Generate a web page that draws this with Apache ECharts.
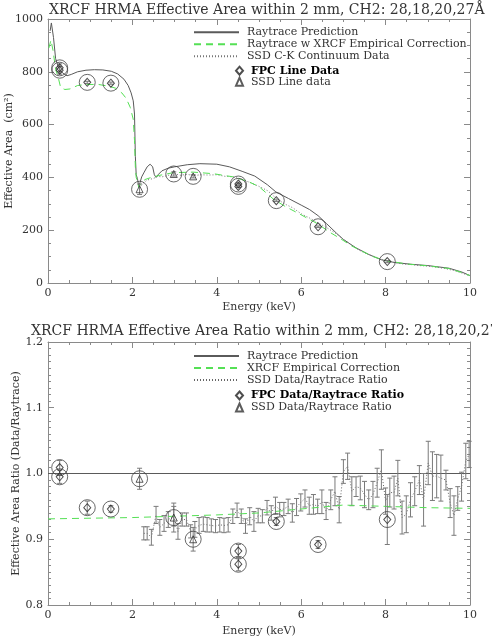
<!DOCTYPE html>
<html><head><meta charset="utf-8">
<script src="https://cdn.jsdelivr.net/npm/echarts@6/dist/echarts.min.js"></script>
<style>html,body{margin:0;padding:0;background:#fff}#c{width:492px;height:637px}</style>
</head><body><div id="c"></div>
<script>
// ---------- DATA ----------
const raytraceE = [0.05,0.08,0.10,0.13,0.18,0.25,0.35,0.45,0.55,0.7,0.9,1.1,1.3,1.5,1.65,1.8,1.9,1.97,2.02,2.05,2.07,2.09,2.12,2.15,2.18,2.22,2.28,2.35,2.42,2.48,2.52,2.56,2.62,2.7,2.85,3.0,3.3,3.6,4.0,4.3,4.6,4.9,5.2,5.4,5.7,6.0,6.2,6.4,6.6,6.84,7.0,7.3,7.6,7.9,8.2,8.6,9.0,9.2,9.5,9.8,10.0];
const raytraceA = [955,985,990,930,850,815,795,785,790,800,806,808,807,802,792,772,748,720,690,640,480,410,395,368,380,402,420,440,450,440,410,400,412,425,435,440,448,452,450,440,423,405,372,345,320,295,278,255,225,188,165,133,108,88,78,71,66,62,56,42,28];

const correctedE = [0.02,0.07,0.12,0.18,0.24,0.3,0.4,0.52,0.7,0.9,1.2,1.45,1.6,1.75,1.85,1.95,2.02,2.05,2.07,2.09,2.12,2.15,2.2,2.3,2.45,2.65,2.97,3.44,3.92,4.39,4.75,5.0,5.34,5.6,6.0,6.37,6.7,6.92,7.2,7.7,8.0,8.5,9.0,9.5,9.8,10.0];
const correctedA = [890,920,880,810,780,740,733,735,748,752,752,745,738,720,700,665,620,540,440,400,385,362,378,392,400,408,418,420,414,402,384,365,318,292,258,226,190,169,140,100,85,72,65,55,40,28];

const ssdContE = [2.17,2.25,2.35,2.5,2.6,2.7,2.85,3.0,3.15,3.3,3.45,3.6,3.8,4.0,4.2,4.4,4.6,4.8,5.0,5.2,5.4,5.6,5.8,6.0,6.2,6.4,6.6,6.8,7.0,7.2,7.4,7.6,7.8,8.0,8.2,8.4,8.6,8.8,9.0,9.2,9.4,9.6,9.8,10.0];
const ssdContA = [360,378,390,396,404,402,408,413,408,412,406,410,409,410,404,402,392,380,366,350,322,300,285,262,246,228,210,190,166,142,122,108,96,84,78,72,70,66,64,60,55,48,38,27];

const fpcE = [0.277,0.277,0.93,1.49,4.51,4.51,5.41,6.40,8.04];
const fpcA = [815,806,760,757,375,366,312,213,81];
const fpcAErr = [15,15,4,4,4,4,3,3,4];
const fpcRatio = [1.009,0.995,0.948,0.946,0.882,0.862,0.927,0.892,0.930];
const fpcRatioErr = [0.011,0.010,0.010,0.005,0.010,0.010,0.006,0.006,0.038];

const ssdLineE = [2.17,2.98,3.44];
const ssdLineA = [355,413,404];
const ssdLineAErr = [20,8,6];
const ssdLineRatio = [0.992,0.933,0.900];
const ssdLineRatioErr = [0.016,0.022,0.018];

const raytraceRatioE = [0,10];
const raytraceRatioV = [1.0,1.0];

const corrRatioE = [0,2,4,5,6,7,8,9,10];
const corrRatioV = [0.931,0.933,0.937,0.940,0.946,0.952,0.950,0.948,0.947];

const ssdRatioE = [2.27,2.35,2.45,2.56,2.65,2.75,2.85,2.98,3.08,3.18,3.28,3.38,3.48,3.58,3.68,3.77,3.87,3.97,4.07,4.17,4.27,4.38,4.48,4.58,4.68,4.78,4.88,4.98,5.08,5.19,5.29,5.39,5.49,5.59,5.69,5.79,5.89,5.99,6.09,6.19,6.29,6.39,6.49,6.59,6.70,6.80,6.90,7.00,7.10,7.20,7.30,7.40,7.50,7.60,7.70,7.80,7.90,8.00,8.10,8.20,8.29,8.39,8.49,8.59,8.69,8.80,8.90,9.01,9.11,9.21,9.31,9.43,9.53,9.62,9.71,9.80,9.90,9.98];
const ssdRatioV = [0.909,0.909,0.903,0.937,0.918,0.924,0.930,0.935,0.912,0.930,0.930,0.912,0.915,0.921,0.923,0.922,0.921,0.920,0.922,0.921,0.922,0.935,0.944,0.935,0.920,0.935,0.927,0.936,0.935,0.948,0.940,0.951,0.945,0.946,0.950,0.940,0.949,0.956,0.962,0.951,0.953,0.950,0.957,0.943,0.960,0.973,0.945,1.003,1.011,0.973,0.980,0.978,0.968,0.960,0.968,0.986,1.006,0.958,0.971,0.971,0.993,0.933,0.938,0.960,0.973,0.990,0.960,1.016,0.996,0.996,0.993,0.990,0.955,0.936,0.962,0.980,1.019,1.029];
const ssdRatioErr = [0.010,0.010,0.012,0.013,0.012,0.012,0.012,0.015,0.012,0.010,0.010,0.010,0.012,0.012,0.011,0.011,0.010,0.010,0.011,0.011,0.011,0.011,0.011,0.011,0.011,0.013,0.015,0.011,0.010,0.011,0.011,0.013,0.011,0.010,0.011,0.014,0.013,0.013,0.013,0.013,0.015,0.011,0.018,0.013,0.015,0.022,0.020,0.018,0.020,0.022,0.015,0.018,0.020,0.015,0.020,0.022,0.030,0.020,0.022,0.025,0.027,0.025,0.028,0.026,0.022,0.022,0.040,0.033,0.037,0.033,0.035,0.015,0.022,0.030,0.018,0.022,0.027,0.020];

const xTicks = {min:0, max:10, interval:2};
const areaTicks = {min:0, max:1000, interval:200};
const ratioTicks = {min:0.8, max:1.2, interval:0.1};

// ---------- helpers ----------
const FONT = 'DejaVu Serif';
const AX = '#8a8a8a';
const TXT = '#333';
const SOLID = '#5a5a5a';
const GREEN = '#55e055';
const zip = (a,b) => a.map((v,i)=>[v,b[i]]);
const errRows = (e,v,err) => e.map((x,i)=>[x, v[i]-err[i], v[i]+err[i]]);

function errRender(params, api){
  const x = api.value(0);
  const p1 = api.coord([x, api.value(1)]);
  const p2 = api.coord([x, api.value(2)]);
  const w = 2.5;
  const st = {stroke:'#7a7a7a', lineWidth:1};
  return {type:'group', children:[
    {type:'line', shape:{x1:p1[0],y1:p1[1],x2:p2[0],y2:p2[1]}, style:st},
    {type:'line', shape:{x1:p1[0]-w,y1:p1[1],x2:p1[0]+w,y2:p1[1]}, style:st},
    {type:'line', shape:{x1:p2[0]-w,y1:p2[1],x2:p2[0]+w,y2:p2[1]}, style:st}
  ]};
}

function xAx(grid, pos, labels, name, gap){
  return {type:'value', gridIndex:grid, position:pos, min:xTicks.min, max:xTicks.max, interval:xTicks.interval,
    name: name||'', nameLocation:'middle', nameGap:gap||12, nameMoveOverlap:false,
    nameTextStyle:{fontFamily:FONT, fontSize:11, color:TXT},
    axisLine:{show:true, onZero:false, lineStyle:{color:AX}},
    axisTick:{show:true, inside:true, length:6, lineStyle:{color:AX}},
    minorTick:{show:true, splitNumber:4, length:3, lineStyle:{color:AX}},
    splitLine:{show:false}, minorSplitLine:{show:false},
    axisLabel:{show:labels, margin:5, fontFamily:FONT, fontSize:11, color:TXT}};
}
function yAx(grid, pos, labels, t, minorN, name, gap, fmt){
  return {type:'value', gridIndex:grid, position:pos, min:t.min, max:t.max, interval:t.interval,
    name: name||'', nameLocation:'middle', nameGap:gap||30, nameRotate:90, nameMoveOverlap:false,
    nameTextStyle:{fontFamily:FONT, fontSize:11, color:TXT},
    axisLine:{show:true, onZero:false, lineStyle:{color:AX}},
    axisTick:{show:true, inside:true, length:6, lineStyle:{color:AX}},
    minorTick:{show:true, splitNumber:minorN, length:3, lineStyle:{color:AX}},
    splitLine:{show:false}, minorSplitLine:{show:false},
    axisLabel:{show:labels, margin:5, fontFamily:FONT, fontSize:11, color:TXT, formatter:fmt}};
}

const chart = echarts.init(document.getElementById('c'), null, {renderer:'canvas'});
const lineLegendText = {fontFamily:FONT, fontSize:11, color:TXT, lineHeight:12, padding:[0,0,0,3]};
const symLegendText = {fontFamily:FONT, fontSize:11, color:TXT, lineHeight:11, padding:[0,0,0,3]};
const noSym = {opacity:0};
const hollow = c => ({color:'rgba(0,0,0,0)', borderColor:c, borderWidth:1});

chart.setOption({
  animation:false,
  backgroundColor:'#fff',
  title:[
    {text:'XRCF HRMA Effective Area within 2 mm, CH2: 28,18,20,27Å', left:44, top:-2,
     textStyle:{fontFamily:FONT, fontSize:14, fontWeight:'normal', color:TXT}},
    {text:'XRCF HRMA Effective Area Ratio within 2 mm, CH2: 28,18,20,27Å', left:26, top:319,
     textStyle:{fontFamily:FONT, fontSize:14, fontWeight:'normal', color:TXT}}
  ],
  legend:[
    {orient:'vertical', left:193, top:26.3, padding:0, itemWidth:45, itemHeight:12, itemGap:0, selectedMode:false,
     textStyle:lineLegendText,
     data:[{name:'Raytrace Prediction', itemStyle:noSym},{name:'Raytrace w XRCF Empirical Correction', itemStyle:noSym},{name:'SSD C-K Continuum Data', itemStyle:noSym}]},
    {orient:'vertical', left:235, top:65.2, padding:0, itemWidth:7, itemHeight:8, itemGap:0, selectedMode:false,
     textStyle:symLegendText,
     data:[{name:'FPC Line Data', textStyle:{fontWeight:'bold', color:'#000'}},'SSD Line data']},
    {orient:'vertical', left:193, top:350, padding:0, itemWidth:45, itemHeight:12, itemGap:0, selectedMode:false,
     textStyle:lineLegendText,
     data:[{name:'Raytrace Prediction ', itemStyle:noSym},{name:'XRCF Empirical Correction', itemStyle:noSym},{name:'SSD Data/Raytrace Ratio', itemStyle:noSym}]},
    {orient:'vertical', left:235, top:389.5, padding:0, itemWidth:7, itemHeight:8, itemGap:0, selectedMode:false,
     textStyle:lineLegendText,
     formatter: n => n === 'SSD Line Ratio' ? 'SSD Data/Raytrace Ratio' : n,
     data:[{name:'FPC Data/Raytrace Ratio', textStyle:{fontWeight:'bold', color:'#000'}},'SSD Line Ratio']}
  ],
  grid:[
    {left:48, right:22, top:19, height:264, outerBoundsMode:'none', containLabel:false},
    {left:48, right:22, top:342, height:263, outerBoundsMode:'none', containLabel:false}
  ],
  xAxis:[
    xAx(0,'bottom',true,'Energy (keV)',19), xAx(0,'top',false),
    xAx(1,'bottom',true,'Energy (keV)',21), xAx(1,'top',false)
  ],
  yAxis:[
    yAx(0,'left',true,areaTicks,4,'Effective Area  (cm²)',33.5, v=>String(v)),
    yAx(0,'right',false,areaTicks,4),
    yAx(1,'left',true,ratioTicks,10,'Effective Area Ratio (Data/Raytrace)',26.5, v=>v.toFixed(1)),
    yAx(1,'right',false,ratioTicks,10)
  ],
  series:[
    // ---- top chart ----
    {name:'Raytrace Prediction', type:'line', xAxisIndex:0, yAxisIndex:0, symbol:'none', z:3,
     lineStyle:{color:SOLID, width:1}, itemStyle:{color:SOLID}, data:zip(raytraceE,raytraceA)},
    {name:'Raytrace w XRCF Empirical Correction', type:'line', xAxisIndex:0, yAxisIndex:0, symbol:'none', z:4,
     lineStyle:{color:GREEN, width:1, type:[7,5]}, itemStyle:{color:GREEN}, data:zip(correctedE,correctedA)},
    {name:'SSD C-K Continuum Data', type:'line', xAxisIndex:0, yAxisIndex:0, symbol:'none', z:3,
     lineStyle:{color:'#777', width:1, type:[1,2]}, itemStyle:{color:'#777'}, data:zip(ssdContE,ssdContA)},
    {type:'custom', xAxisIndex:0, yAxisIndex:0, renderItem:errRender, z:5, data:errRows(fpcE,fpcA,fpcAErr)},
    {type:'custom', xAxisIndex:0, yAxisIndex:0, renderItem:errRender, z:5, data:errRows(ssdLineE,ssdLineA,ssdLineAErr)},
    {type:'scatter', xAxisIndex:0, yAxisIndex:0, symbol:'circle', symbolSize:16, z:6,
     itemStyle:hollow('#444'), data:zip(fpcE,fpcA).concat(zip(ssdLineE,ssdLineA))},
    {name:'FPC Line Data', type:'scatter', xAxisIndex:0, yAxisIndex:0, symbol:'diamond', symbolSize:[7,8], z:7,
     itemStyle:hollow('#222'), data:zip(fpcE,fpcA)},
    {name:'SSD Line data', type:'scatter', xAxisIndex:0, yAxisIndex:0, symbol:'triangle', symbolSize:7, z:7,
     itemStyle:hollow('#333'), data:zip(ssdLineE,ssdLineA)},
    // ---- bottom chart ----
    {name:'Raytrace Prediction ', type:'line', xAxisIndex:2, yAxisIndex:2, symbol:'none', z:3,
     lineStyle:{color:SOLID, width:1}, itemStyle:{color:SOLID}, data:zip(raytraceRatioE,raytraceRatioV)},
    {name:'XRCF Empirical Correction', type:'line', xAxisIndex:2, yAxisIndex:2, symbol:'none', z:4,
     lineStyle:{color:GREEN, width:1, type:[7,5]}, itemStyle:{color:GREEN}, data:zip(corrRatioE,corrRatioV)},
    {name:'SSD Data/Raytrace Ratio', type:'line', xAxisIndex:2, yAxisIndex:2, symbol:'none', z:3,
     lineStyle:{color:'#666', width:1, type:[1,2]}, itemStyle:{color:'#666'}, data:zip(ssdRatioE,ssdRatioV)},
    {type:'custom', xAxisIndex:2, yAxisIndex:2, renderItem:errRender, z:4, data:errRows(ssdRatioE,ssdRatioV,ssdRatioErr)},
    {type:'custom', xAxisIndex:2, yAxisIndex:2, renderItem:errRender, z:5, data:errRows(fpcE,fpcRatio,fpcRatioErr)},
    {type:'custom', xAxisIndex:2, yAxisIndex:2, renderItem:errRender, z:5, data:errRows(ssdLineE,ssdLineRatio,ssdLineRatioErr)},
    {type:'scatter', xAxisIndex:2, yAxisIndex:2, symbol:'circle', symbolSize:16, z:6,
     itemStyle:hollow('#444'), data:zip(fpcE,fpcRatio).concat(zip(ssdLineE,ssdLineRatio))},
    {name:'FPC Data/Raytrace Ratio', type:'scatter', xAxisIndex:2, yAxisIndex:2, symbol:'diamond', symbolSize:[7,8], z:7,
     itemStyle:hollow('#222'), data:zip(fpcE,fpcRatio)},
    {name:'SSD Line Ratio', type:'scatter', xAxisIndex:2, yAxisIndex:2, symbol:'triangle', symbolSize:7, z:7,
     itemStyle:hollow('#333'), data:zip(ssdLineE,ssdLineRatio)}
  ]
});
</script></body></html>
